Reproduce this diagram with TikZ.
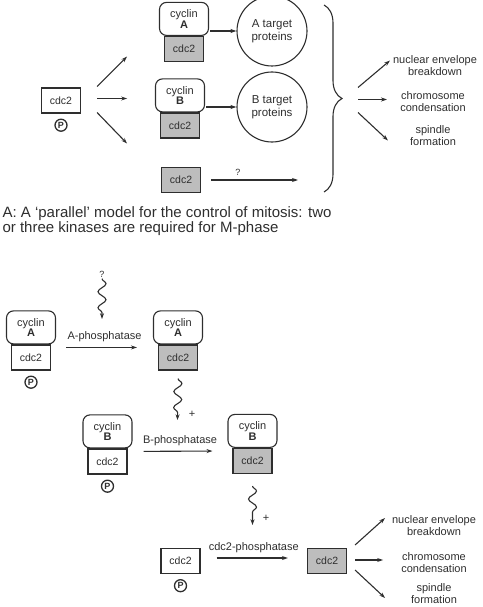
\documentclass[tikz,border=0pt]{standalone}
\usepackage{fontspec}
\setmainfont{Liberation Sans}
\usetikzlibrary{positioning,arrows.meta,calc,decorations.pathreplacing,decorations.pathmorphing}
\definecolor{figink}{gray}{0.18}
\definecolor{figshade}{gray}{0.74}
\tikzset{
  fig/.style={font=\fontsize{11}{12}\selectfont,figink,line width=1.1pt},
  cyc/.style={draw,rounded corners=7pt,minimum width=49pt,minimum height=33pt,
              align=center,inner sep=1pt,font=\fontsize{11}{10.5}\selectfont},
  kin/.style={draw,minimum width=39pt,minimum height=25pt,inner sep=1pt,
              font=\fontsize{10.5}{12}\selectfont},
  kinon/.style={kin,fill=figshade},
  phos/.style={circle,draw,line width=1.3pt,inner sep=0.4pt,minimum size=12pt,
               font=\fontsize{9}{9}\selectfont\bfseries},
  target/.style={circle,draw,minimum size=70pt,align=center,inner sep=0pt,
                 font=\fontsize{11.5}{12.5}\selectfont},
  ln/.style={-{Stealth[length=2.1mm,width=1.4mm]}},
  wig/.style={-{Stealth[length=2mm,width=1.4mm]},decorate,
              decoration={snake,amplitude=4pt,segment length=16pt,post length=5pt}},
  lbl/.style={inner sep=1pt},
  effect/.style={align=center,inner sep=1pt,font=\fontsize{11}{12}\selectfont},
}

\begin{document}
\begin{tikzpicture}[fig,x=1pt,y=-1pt]
\useasboundingbox (0,0) rectangle (482,607);

% ------------------------------------------------ A: the parallel model
\node[kin] (k0) at (61,100.5) {cdc2};
\node[phos,below=5pt of k0] (p0) {P};

\node[kinon] (kA) at (184,49) {cdc2};
\node[cyc,above=0pt of kA] (cA) {cyclin\\\textbf{A}};
\node[kinon] (kB) at (180,125.5) {cdc2};
\node[cyc,above=0pt of kB] (cB) {cyclin\\\textbf{B}};
\node[kinon] (kF) at (181,180) {cdc2};

\foreach \sy/\ey in {-14/-44, -2/-2, 12/43}
  \draw[ln] ($(k0.east)+(16,\sy)$) -- ($(k0.east)+(46,\ey)$);

\node[target] (tA) at (272,31) {A target\\proteins};
\node[target] (tB) at (272,107) {B target\\proteins};
\draw[ln,shorten <=1pt] (cA.east |- tA.west) -- (tA.west);
\draw[ln,shorten <=1pt] (cB.east |- tB.west) -- (tB.west);

\coordinate (qEnd) at (298,180);
\draw[ln,shorten <=10pt] (kF.east) -- (qEnd)
  node[lbl,pos=0.38,above=3pt,font=\fontsize{9}{9}\selectfont] (qF) {?};

% brace gathering the three routes
\coordinate (brT) at (324,5);
\coordinate (brB) at (324,192);
\draw[decorate,decoration={brace,amplitude=18pt}] (brT) -- (brB);
\coordinate (brTip) at ($(brT)!0.5!(brB)+(18,0)$);

\node[effect] (e1) at (435,66) {nuclear envelope\\breakdown};
\node[effect] (e2) at (433,102) {chromosome\\condensation};
\node[effect] (e3) at (433,136) {spindle\\formation};
\foreach \sy/\ex/\ey in {-11/48/-38, 1/45/1, 14/46/42}
  \draw[ln] ($(brTip)+(16,\sy)$) -- ($(brTip)+(\ex,\ey)$);

\node[anchor=north west,align=left,inner sep=0pt,
      font=\fontsize{15}{15.5}\selectfont] (capA) at (2,206)
  {A: A `parallel' model for the control of mitosis: two\\
   or three kinases are required for M-phase};

% ------------------------------------------------ B: the serial model
% step 1: cyclin A
\node[kin] (k1) at (31,357.5) {cdc2};
\node[cyc,above=0pt of k1] (c1) {cyclin\\\textbf{A}};
\node[phos,below=5pt of k1] (p1) {P};
\node[kinon] (k2) at (178,357.5) {cdc2};
\node[cyc,above=0pt of k2] (c2) {cyclin\\\textbf{A}};
\draw[ln,shorten <=15pt,shorten >=21pt] ([yshift=-3pt]k1.north east) --
  ([yshift=-3pt]k2.north west) node[lbl,midway,above=4pt] (l1) {A-phosphatase};

\node[lbl,font=\fontsize{9}{9}\selectfont] (q1) at (102,274) {?};
\coordinate (w1) at (102,319);
\draw[wig] (q1) -- (w1);

% step 2: cyclin B
\coordinate (w2a) at ([yshift=-8pt]k2.south);
\coordinate (w2b) at (177.5,420);
\draw[wig] (w2a) -- (w2b);
\node[lbl] (pl2) at (192,414) {+};

\node[kin] (k3) at (107.5,461.5) {cdc2};
\node[cyc,above=0pt of k3] (c3) {cyclin\\\textbf{B}};
\node[phos,below=5pt of k3] (p3) {P};
\node[kinon] (k4) at (252.5,461) {cdc2};
\node[cyc,above=0pt of k4] (c4) {cyclin\\\textbf{B}};
\draw[ln,shorten <=16pt,shorten >=20pt] ([yshift=-3pt]k3.north east) --
  ([yshift=-3pt]k4.north west) node[lbl,midway,above=4pt] (l2) {B-phosphatase};

% step 3: free cdc2
\coordinate (w3a) at ([yshift=-12pt]k4.south);
\coordinate (w3b) at (252.5,525);
\draw[wig] (w3a) -- (w3b);
\node[lbl] (pl3) at (266,518) {+};

\node[kin] (k5) at (180.5,561) {cdc2};
\node[phos,below=5pt of k5] (p5) {P};
\node[kinon] (k6) at (327,561) {cdc2};
\draw[ln,shorten <=16pt,shorten >=19pt] ([yshift=3pt]k5.east) --
  ([yshift=3pt]k6.west) node[lbl,midway,above=4pt] (l3) {cdc2-phosphatase};

\node[effect] (f1) at (434,525.5) {nuclear envelope\\breakdown};
\node[effect] (f2) at (434,563) {chromosome\\condensation};
\node[effect] (f3) at (434,594) {spindle\\formation};
\foreach \sy/\ex/\ey in {-16/38/-43, -1/36/-1, 9/38/37}
  \draw[ln] ($(k6.east)+(8,\sy)$) -- ($(k6.east)+(\ex,\ey)$);

\end{tikzpicture}
\end{document}
